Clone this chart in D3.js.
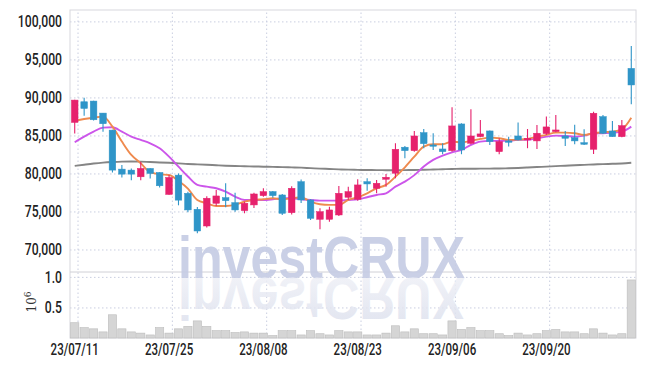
<!DOCTYPE html>
<html>
<head>
<meta charset="utf-8">
<script src="https://cdn.jsdelivr.net/npm/d3@7"></script>
<style>
  body { margin: 0; background: #fff; }
  .tick-label { font-family: Roboto, "DejaVu Sans", sans-serif; font-weight: 500; font-size: 16px; fill: #222; }
  .grid line { stroke: #c9cee0; stroke-dasharray: 1.5 2.5; }
  .grid path { display: none; }
</style>
</head>
<body>
<svg width="645" height="366"></svg>
<script>
// trading days (x categories)
const dates = [
  "23/07/11","23/07/12","23/07/13","23/07/14","23/07/17","23/07/18","23/07/19","23/07/20","23/07/21","23/07/24",
  "23/07/25","23/07/26","23/07/27","23/07/28","23/07/31","23/08/01","23/08/02","23/08/03","23/08/04","23/08/07",
  "23/08/08","23/08/09","23/08/10","23/08/11","23/08/14","23/08/16","23/08/17","23/08/18","23/08/21","23/08/22",
  "23/08/23","23/08/24","23/08/25","23/08/28","23/08/29","23/08/30","23/08/31","23/09/01","23/09/04","23/09/05",
  "23/09/06","23/09/07","23/09/08","23/09/11","23/09/12","23/09/13","23/09/14","23/09/15","23/09/18","23/09/19",
  "23/09/20","23/09/21","23/09/22","23/09/25","23/09/26","23/09/27","23/10/04","23/10/05","23/10/06","23/10/10"
];
const tickDates = ["23/07/11","23/07/25","23/08/08","23/08/23","23/09/06","23/09/20"];
const priceTicks = [70000, 75000, 80000, 85000, 90000, 95000, 100000];
const volTicks = [0.5, 1.0];

const open = [
  86710, 89430, 89520, 87940, 85700, 80570, 80440, 79560, 80660, 80130,
  77240, 79780, 77390, 75290, 73090, 76080, 76820, 76160, 75110, 75860,
  77080, 77610, 77170, 74840, 78920, 76510, 73970, 73970, 74540, 76870,
  76600, 78920, 78050, 79240, 80030, 83450, 83000, 85370, 83750, 83220,
  83000, 86510, 83970, 84840, 85590, 82870, 84280, 84930, 84410, 84280,
  85240, 85500, 84930, 84710, 84050, 83180, 87480, 85590, 84840, 93820
];
const high = [
  89700, 89960, 89560, 87960, 85750, 81100, 80660, 81530, 80700, 80150,
  79780, 80000, 77600, 75600, 77000, 77830, 78710, 77470, 76290, 77470,
  78050, 77700, 77300, 78300, 79200, 76600, 75420, 75630, 78350, 78260,
  79240, 79370, 79150, 79940, 83970, 83620, 85590, 85850, 85290, 83970,
  88710, 86600, 88450, 87040, 85650, 84630, 84840, 86690, 85850, 86380,
  87500, 87700, 85590, 86400, 85810, 88130, 87700, 86910, 87040, 96780
];
const low = [
  85260, 87590, 86970, 85480, 80130, 79470, 79120, 79120, 79340, 78160,
  77200, 75810, 74900, 72130, 72900, 75720, 75550, 74970, 74760, 75460,
  76950, 76800, 74540, 74600, 76120, 73880, 72660, 73660, 74410, 76500,
  76400, 77740, 77390, 78260, 79370, 82000, 82870, 83320, 83090, 82530,
  82870, 82530, 83840, 84760, 83750, 82530, 83530, 84320, 83320, 83220,
  85070, 85420, 83620, 83840, 83750, 82570, 85200, 84840, 84760, 89100
];
const close = [
  89650, 88550, 87060, 86540, 80440, 79910, 79910, 80660, 80000, 78380,
  79470, 76490, 75200, 72430, 76740, 77040, 76420, 75200, 76080, 77300,
  77610, 77080, 74760, 78050, 76510, 74100, 74970, 75200, 77390, 77610,
  78490, 78620, 78710, 79500, 83180, 83000, 84930, 83920, 83580, 82870,
  86250, 83090, 84930, 85200, 84190, 84190, 84100, 84410, 84630, 85290,
  86120, 85720, 84630, 84280, 83840, 87920, 85290, 84840, 86290, 91640
];
// volume, millions of shares
const volume = [
  0.25, 0.17, 0.15, 0.10, 0.38, 0.15, 0.10, 0.08, 0.05, 0.17,
  0.08, 0.15, 0.19, 0.28, 0.19, 0.12, 0.12, 0.09, 0.10, 0.08,
  0.08, 0.04, 0.12, 0.12, 0.05, 0.12, 0.07, 0.05, 0.12, 0.10,
  0.10, 0.05, 0.05, 0.08, 0.20, 0.10, 0.15, 0.07, 0.07, 0.05,
  0.28, 0.14, 0.17, 0.12, 0.12, 0.07, 0.04, 0.08, 0.05, 0.07,
  0.12, 0.14, 0.10, 0.10, 0.07, 0.15, 0.08, 0.05, 0.07, 0.95
];
// moving averages
const maShort = [
  86910, 87170, 87340, 87470, 86160, 84190, 82430, 81340, 80160, 79890,
  79800, 79010, 78000, 76510, 76080, 75720, 75720, 75860, 76290, 76510,
  76600, 76740, 76600, 76740, 76870, 76290, 75940, 75860, 75860, 76510,
  76870, 77390, 78050, 78490, 79580, 80810, 82200, 83530, 83840, 83840,
  84190, 84100, 84280, 84540, 84710, 84630, 84410, 84450, 84540, 84840,
  85070, 85370, 85370, 85290, 85070, 85290, 85420, 85500, 85810, 87340
];
const maMid = [
  84100, 84840, 85500, 86030, 86080, 85500, 84840, 84410, 83970, 83310,
  82210, 80900, 79600, 78490, 78260, 78050, 77610, 76950, 76510, 76510,
  76510, 76600, 76740, 76740, 76600, 76510, 76420, 76420, 76420, 76510,
  76600, 76870, 77170, 77390, 78260, 78920, 79780, 80900, 81780, 82340,
  82780, 83090, 83750, 84190, 84280, 84280, 84280, 84410, 84410, 84630,
  84840, 84970, 84930, 84840, 84970, 85290, 85290, 85370, 85500, 86160
];
const maLong = [
  80990, 81150, 81300, 81420, 81500, 81560, 81580, 81560, 81500, 81450,
  81400, 81330, 81250, 81200, 81150, 81080, 81020, 80980, 80950, 80920,
  80890, 80860, 80830, 80800, 80760, 80700, 80640, 80590, 80540, 80500,
  80470, 80450, 80440, 80430, 80430, 80440, 80460, 80490, 80520, 80560,
  80590, 80610, 80620, 80630, 80640, 80650, 80680, 80720, 80780, 80840,
  80900, 80960, 81020, 81080, 81130, 81180, 81230, 81270, 81310, 81400
];

const upColor = "#e6216c", downColor = "#2f95c8";

const svg = d3.select("svg");
const left = 70, right = 636;
const priceTop = 10, priceBottom = 270, volTop = 272, volBottom = 338;

const candles = dates.map((d, i) => ({
  date: d, open: open[i], high: high[i], low: low[i], close: close[i], vol: volume[i]
}));

const x = d3.scaleBand().domain(dates).range([left, right]).paddingInner(0.3).paddingOuter(0.15);
const xc = d => x(d) + x.bandwidth() / 2;
const y = d3.scaleLinear().domain([67300, 101500]).range([priceBottom, priceTop]);
const yv = d3.scaleLinear().domain([0, 1.08]).range([volBottom, volTop]);

// grids
svg.append("g").attr("class", "grid")
  .attr("transform", `translate(${left},0)`)
  .call(d3.axisLeft(y).tickValues(priceTicks).tickSize(-(right - left)).tickFormat(""));
svg.append("g").attr("class", "grid")
  .attr("transform", `translate(${left},0)`)
  .call(d3.axisLeft(yv).tickValues(volTicks).tickSize(-(right - left)).tickFormat(""));
svg.append("g").attr("class", "grid")
  .attr("transform", `translate(${x.bandwidth() / 2},${volBottom})`)
  .call(d3.axisBottom(x).tickValues(tickDates).tickSize(-(volBottom - priceTop)).tickFormat(""));

// frame
svg.append("rect").attr("x", left).attr("y", priceTop)
  .attr("width", right - left).attr("height", volBottom - priceTop)
  .attr("fill", "none").attr("stroke", "#d8d8de").attr("stroke-width", 1);
svg.append("line").attr("x1", left).attr("x2", right).attr("y1", volTop).attr("y2", volTop)
  .attr("stroke", "#d0d0d6");

// watermark with faded reflection
const fade = svg.append("defs").append("linearGradient")
  .attr("id", "fade").attr("x1", 0).attr("x2", 0).attr("y1", 0).attr("y2", 1);
fade.append("stop").attr("offset", "0%").attr("stop-color", "#dadeec");
fade.append("stop").attr("offset", "100%").attr("stop-color", "#f2f3f8");
const wm = svg.append("g").attr("font-family", "Liberation Sans, Arial, sans-serif")
  .attr("font-weight", "bold").attr("font-size", 60);
wm.append("text").attr("x", 178).attr("y", 278)
  .attr("textLength", 287).attr("lengthAdjust", "spacingAndGlyphs")
  .attr("fill", "#c4cbe3").attr("fill-opacity", 0.9).text("investCRUX");
wm.append("text").attr("x", 178).attr("y", -278)
  .attr("transform", "scale(1,-1)")
  .attr("textLength", 287).attr("lengthAdjust", "spacingAndGlyphs")
  .attr("fill", "url(#fade)").attr("fill-opacity", 0.85).text("investCRUX");

// volume bars
const vw = x.step() - 1.2;
svg.append("g").selectAll("rect").data(candles).join("rect")
  .attr("x", d => xc(d.date) - vw / 2)
  .attr("y", d => yv(d.vol))
  .attr("width", vw)
  .attr("height", d => yv(0) - yv(d.vol))
  .attr("fill", "#d5d5d5").attr("stroke", "#bcbcbc").attr("stroke-width", 0.6);

// moving averages
const line = arr => d3.line().x((d, i) => xc(dates[i])).y(d => y(d)).curve(d3.curveMonotoneX)(arr);
svg.append("path").attr("d", line(maLong)).attr("fill", "none").attr("stroke", "#858585").attr("stroke-width", 1.9);
svg.append("path").attr("d", line(maMid)).attr("fill", "none").attr("stroke", "#cc55ea").attr("stroke-width", 1.9);
svg.append("path").attr("d", line(maShort)).attr("fill", "none").attr("stroke", "#ef8a4e").attr("stroke-width", 1.9);

// candles
const cg = svg.append("g").selectAll("g").data(candles).join("g")
  .attr("stroke", d => d.close >= d.open ? upColor : downColor)
  .attr("fill", d => d.close >= d.open ? upColor : downColor);
cg.append("line")
  .attr("x1", d => xc(d.date)).attr("x2", d => xc(d.date))
  .attr("y1", d => y(d.high)).attr("y2", d => y(d.low))
  .attr("stroke-width", 1.1);
cg.append("rect")
  .attr("x", d => x(d.date))
  .attr("y", d => y(Math.max(d.open, d.close)))
  .attr("width", x.bandwidth())
  .attr("height", d => Math.max(1, Math.abs(y(d.open) - y(d.close))))
  .attr("stroke-width", 0.5);

// axis labels, squeezed to look like the condensed face of the original
function condense(sel, k) {
  sel.selectAll("text").attr("class", "tick-label").attr("font-size", null).attr("font-family", null)
    .each(function () {
      this.setAttribute("textLength", this.getComputedTextLength() * k);
      this.setAttribute("lengthAdjust", "spacingAndGlyphs");
    });
}
const yAxis = svg.append("g").attr("transform", `translate(${left - 5},0)`)
  .call(d3.axisLeft(y).tickValues(priceTicks).tickSize(0).tickFormat(d3.format(",")));
yAxis.select(".domain").remove();
condense(yAxis, 0.76);

const vAxis = svg.append("g").attr("transform", `translate(${left - 5},0)`)
  .call(d3.axisLeft(yv).tickValues(volTicks).tickSize(0).tickFormat(d3.format(".1f")));
vAxis.select(".domain").remove();
condense(vAxis, 0.76);

const xAxis = svg.append("g").attr("transform", `translate(0,${volBottom})`)
  .call(d3.axisBottom(x).tickValues(tickDates).tickSize(0).tickPadding(6));
xAxis.select(".domain").remove();
condense(xAxis, 0.72);

// volume unit
svg.append("text")
  .attr("transform", "translate(36,302) rotate(-90)")
  .attr("text-anchor", "middle")
  .attr("font-family", "DejaVu Serif, serif").attr("font-size", 12).attr("fill", "#333")
  .html('10<tspan dy="-5" font-size="9">6</tspan>');
</script>
</body>
</html>
